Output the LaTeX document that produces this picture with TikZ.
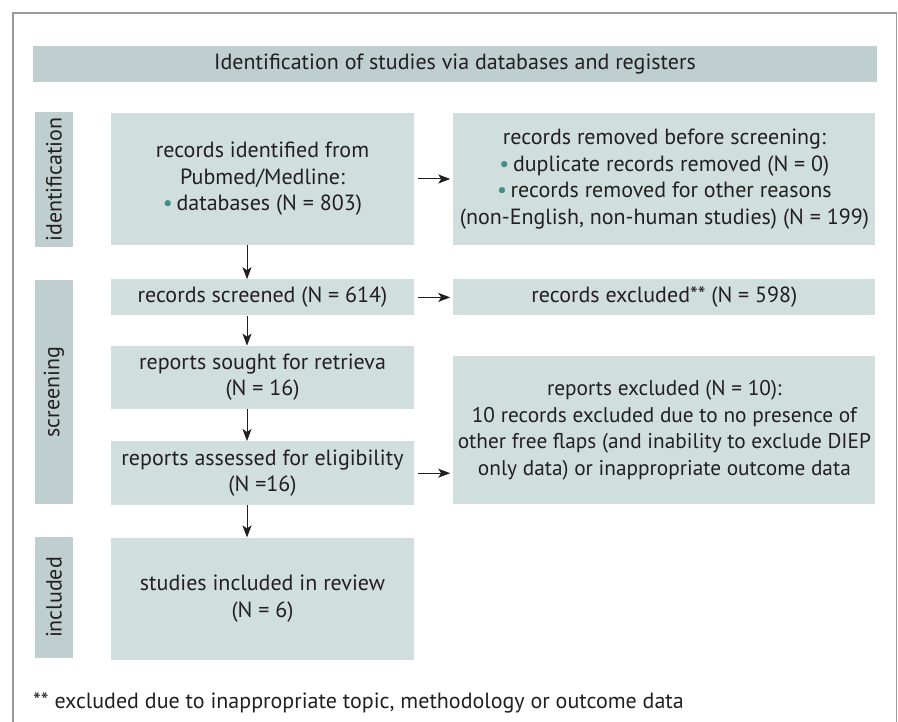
\documentclass[tikz,border=0pt]{standalone}
\usepackage{fontspec}
\setmainfont{PT Sans}
\usetikzlibrary{arrows.meta, positioning}
\definecolor{barteal}{HTML}{BFCFCF}
\definecolor{boxteal}{HTML}{D1DEDE}
\definecolor{dotteal}{HTML}{3F8F86}
\definecolor{inkgray}{HTML}{231F20}
\definecolor{framegray}{HTML}{9A9A9A}
\newcommand{\bul}{\textcolor{dotteal}{\textbullet}\,}

\begin{document}
\begin{tikzpicture}[x=1pt, y=1pt,
    font=\fontsize{22}{26.5}\selectfont, text=inkgray,
    box/.style={fill=boxteal, align=center, inner sep=0pt,
                minimum width=303pt},
    sidebox/.style={box, minimum width=422pt},
    titlebar/.style={fill=barteal, minimum width=844pt, minimum height=36pt,
                     inner sep=0pt},
    stage/.style={fill=barteal, rotate=90, minimum height=38pt, inner sep=0pt},
    link/.style={-{Stealth[length=12pt, width=9pt, inset=3pt]}, line width=1pt, inkgray}
  ]
  \useasboundingbox (0,0) rectangle (898,-722);
  \draw[framegray, line width=1.5pt] (13,-740) -- (13,-13) -- (896.5,-13) -- (896.5,-740);

  \node[titlebar] (title) at (455,-64)
    {Identification of studies via databases and registers};

  % left column
  \node[box, minimum height=132pt] (identified) at (262.5,-179)
    {records identified from\\ Pubmed/Medline:\\ \bul databases (N = 803)};
  \node[box, minimum height=36pt, below=34pt of identified] (screened)
    {records screened (N = 614)};
  \node[box, minimum height=63pt, below=30pt of screened] (sought)
    {reports sought for retrieva\\ (N = 16)};
  \node[box, minimum height=64pt, below=32pt of sought] (assessed)
    {reports assessed for eligibility\\ (N =16)};
  \node[box, minimum height=122pt, below=32pt of assessed] (studies)
    {studies included in review\\ (N = 6)};

  % right column
  \node[sidebox, minimum height=132pt, right=39pt of identified] (removed)
    {records removed before screening:\\ \bul duplicate records removed (N = 0)\\
     \bul records removed for other reasons\\ (non-English, non-human studies) (N = 199)};
  \node[sidebox, minimum height=36pt, right=39pt of screened] (excluded)
    {records excluded** (N = 598)};
  \node[sidebox, minimum height=148pt, anchor=south west,
        font=\fontsize{21.3}{26.5}\selectfont] (repexcl)
    at ([xshift=39pt, yshift=1pt]assessed.south east)
    {reports excluded (N = 10):\\ 10 records excluded due to no presence of\\
     other free flaps (and inability to exclude DIEP\\ only data) or inappropriate outcome data};

  % stages
  \node[stage, minimum width=135pt] (idstage) at (54,-179.5) {identification};
  \node[stage, minimum width=224pt] (scrstage) at (54,-392) {screening};
  \node[stage, minimum width=121pt] (incstage) at (54,-597.5) {included};

  \node[anchor=west, inner sep=0pt] (note) at (33,-703)
    {** excluded due to inappropriate topic, methodology or outcome data};

  \draw[link] ([xshift=-15.5pt]identified.south) -- ([xshift=-15.5pt]screened.north);
  \draw[link] ([xshift=-15.5pt]screened.south) -- ([xshift=-15.5pt]sought.north);
  \draw[link] ([xshift=-15.5pt]sought.south) -- ([xshift=-15.5pt]assessed.north);
  \draw[link] ([xshift=-15.5pt]assessed.south) -- ([xshift=-15.5pt]studies.north);

  \draw[link, shorten <=4pt, shorten >=3pt] (identified) -- (removed);
  \draw[link, shorten <=4pt, shorten >=3pt] (screened) -- (excluded);
  \draw[link, shorten <=4pt, shorten >=3pt] (assessed.east) -- (assessed.east -| repexcl.west);
\end{tikzpicture}
\end{document}
